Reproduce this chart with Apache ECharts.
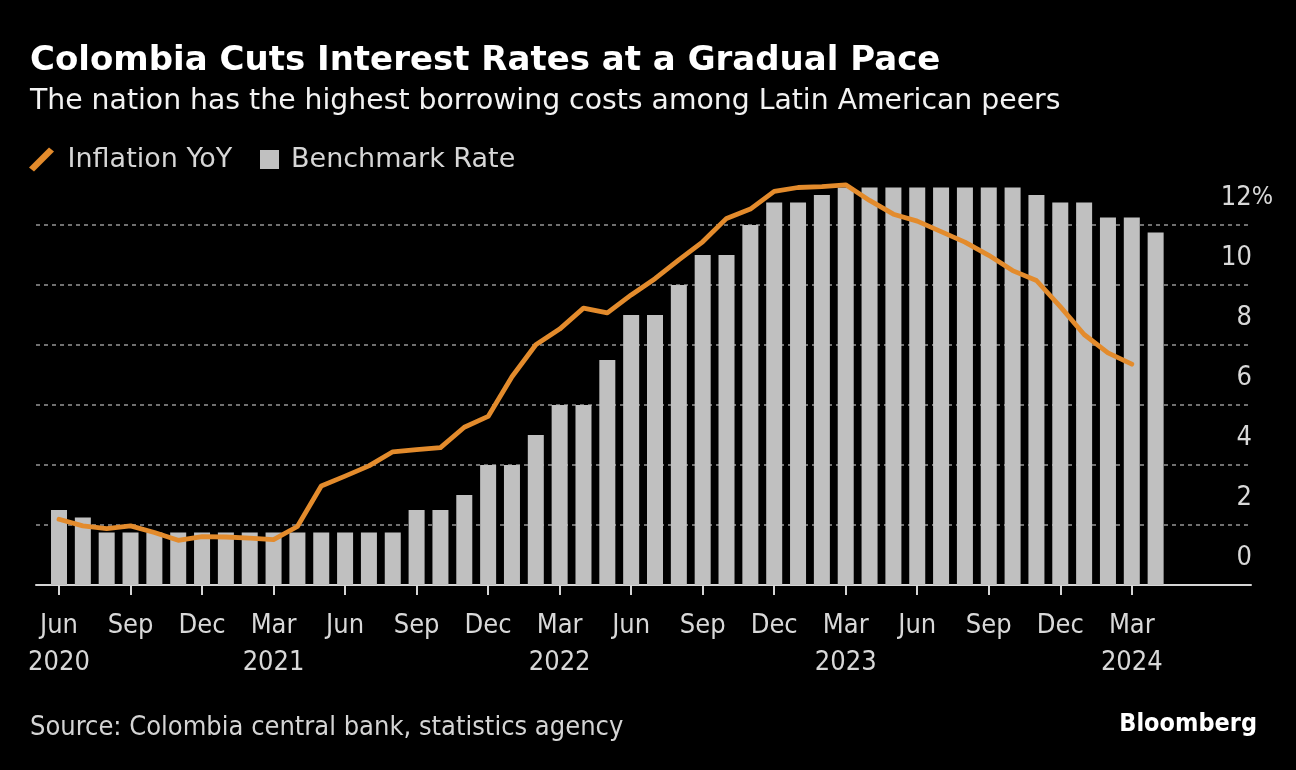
<!DOCTYPE html>
<html>
<head>
<meta charset="utf-8">
<script src="https://cdn.jsdelivr.net/npm/echarts@6/dist/echarts.min.js"></script>
<style>
html,body{margin:0;padding:0;background:#000;}
#c{width:1296px;height:770px;}
</style>
</head>
<body>
<div id="c"></div>
<script>
// ---- data ----
var months = ['Jun 2020','Jul 2020','Aug 2020','Sep 2020','Oct 2020','Nov 2020','Dec 2020',
  'Jan 2021','Feb 2021','Mar 2021','Apr 2021','May 2021','Jun 2021','Jul 2021','Aug 2021','Sep 2021','Oct 2021','Nov 2021','Dec 2021',
  'Jan 2022','Feb 2022','Mar 2022','Apr 2022','May 2022','Jun 2022','Jul 2022','Aug 2022','Sep 2022','Oct 2022','Nov 2022','Dec 2022',
  'Jan 2023','Feb 2023','Mar 2023','Apr 2023','May 2023','Jun 2023','Jul 2023','Aug 2023','Sep 2023','Oct 2023','Nov 2023','Dec 2023',
  'Jan 2024','Feb 2024','Mar 2024','Apr 2024'];
var benchmarkRate = [2.5,2.25,1.75,1.75,1.75,1.75,1.75,
  1.75,1.75,1.75,1.75,1.75,1.75,1.75,1.75,2.5,2.5,3.0,4.0,
  4.0,5.0,6.0,6.0,7.5,9.0,9.0,10.0,11.0,11.0,12.0,12.75,
  12.75,13.0,13.25,13.25,13.25,13.25,13.25,13.25,13.25,13.25,13.0,12.75,
  12.75,12.25,12.25,11.75];
var inflationYoY = [2.19,1.97,1.88,1.97,1.75,1.49,1.61,
  1.60,1.56,1.51,1.95,3.30,3.63,3.97,4.44,4.51,4.58,5.26,5.62,
  6.94,8.01,8.53,9.23,9.07,9.67,10.21,10.84,11.44,12.22,12.53,13.12,
  13.25,13.28,13.34,12.82,12.36,12.13,11.78,11.43,10.99,10.48,10.15,9.28,
  8.35,7.74,7.36];
var xTickMonths = ['Jun 2020','Sep 2020','Dec 2020','Mar 2021','Jun 2021','Sep 2021','Dec 2021',
  'Mar 2022','Jun 2022','Sep 2022','Dec 2022','Mar 2023','Jun 2023','Sep 2023','Dec 2023','Mar 2024'];
var xTickLabels = ['Jun\n2020','Sep','Dec','Mar\n2021','Jun','Sep','Dec',
  'Mar\n2022','Jun','Sep','Dec','Mar\n2023','Jun','Sep','Dec','Mar\n2024'];
var yTicks = [0,2,4,6,8,10,12];

// ---- build ----
var FONT_C = '"DejaVu Sans Condensed","DejaVu Sans",sans-serif';
var FONT = '"DejaVu Sans",sans-serif';
var barData = benchmarkRate.map(function(v,i){return [i,v];});
var lineData = inflationYoY.map(function(v,i){return [i,v];});
var tickIdx = xTickMonths.map(function(m){return months.indexOf(m);});
var labelByIdx = {};
tickIdx.forEach(function(ix,k){labelByIdx[ix]=xTickLabels[k];});

var chart = echarts.init(document.getElementById('c'), null, {renderer:'canvas'});
chart.setOption({
  backgroundColor:'#000000',
  animation:false,
  textStyle:{fontFamily:FONT_C},
  graphic:[
    {type:'text', left:30, top:44, style:{text:'Colombia Cuts Interest Rates at a Gradual Pace', fill:'#ffffff', font:'bold 34px '+FONT}},
    {type:'text', left:30, top:88, style:{text:'The nation has the highest borrowing costs among Latin American peers', fill:'#f2f2f2', font:'28.3px '+FONT}},
    {type:'text', left:30, top:714, style:{text:'Source: Colombia central bank, statistics agency', fill:'#d4d4d4', font:'27px '+FONT_C}},
    {type:'text', right:39, top:712, style:{text:'Bloomberg', fill:'#ffffff', font:'bold 25px '+FONT_C}}
  ],
  legend:[
    {
      left:29, top:146, padding:0, itemWidth:26, itemHeight:24, selectedMode:false,
      textStyle:{color:'#d6d6d6', fontSize:27, lineHeight:24, fontFamily:FONT, padding:[0,0,0,8]},
      data:[{name:'Inflation YoY', icon:'path://M0,20 L20,0 L25,4 L5,24 Z', itemStyle:{color:'#e38b2c'}}]
    },
    {
      left:260, top:146, padding:0, itemWidth:19, itemHeight:19, selectedMode:false,
      textStyle:{color:'#d6d6d6', fontSize:27, lineHeight:19, fontFamily:FONT, padding:[0,0,0,7]},
      data:[{name:'Benchmark Rate', icon:'rect', itemStyle:{color:'#c0c0c0'}}]
    }
  ],
  grid:{left:36, right:45, top:180, bottom:185},
  xAxis:{
    type:'value', min:-0.965, max:50,
    splitLine:{show:false},
    axisLine:{show:true, onZero:false, lineStyle:{color:'#d4d4d4', width:2}},
    axisTick:{show:true, length:10, lineStyle:{color:'#d4d4d4', width:2}, customValues:tickIdx},
    axisLabel:{customValues:tickIdx, color:'#d8d8d8', fontSize:27, lineHeight:37, margin:22, fontFamily:FONT_C,
      formatter:function(v){return labelByIdx[Math.round(v)]||'';}}
  },
  yAxis:{
    type:'value', position:'right', min:0, max:13.5, interval:2,
    axisLine:{show:false}, axisTick:{show:false},
    splitLine:{show:true, showMaxLine:false, showMinLine:false, lineStyle:{color:'#707070', width:2, type:[4,4]}},
    axisLabel:{
      show:true, align:'right', verticalAlign:'bottom', margin:22, padding:[0,0,14,0],
      customValues:yTicks,
      formatter:function(v){ return v===12 ? '{n|12}{p|%}' : '{n|'+v+'}{s| }'; },
      rich:{
        n:{fontSize:27, color:'#d8d8d8', fontFamily:FONT_C},
        p:{fontSize:25, color:'#d8d8d8', fontFamily:FONT_C},
        s:{width:21, fontSize:27}
      }
    }
  },
  series:[
    {name:'Benchmark Rate', type:'bar', data:barData, barWidth:16, itemStyle:{color:'#c0c0c0'}, z:2},
    {name:'Inflation YoY', type:'line', data:lineData, showSymbol:false, symbol:'none',
      lineStyle:{color:'#e38b2c', width:4.8, join:'round', cap:'round'}, itemStyle:{color:'#e38b2c'}, z:3}
  ]
});
</script>
</body>
</html>
